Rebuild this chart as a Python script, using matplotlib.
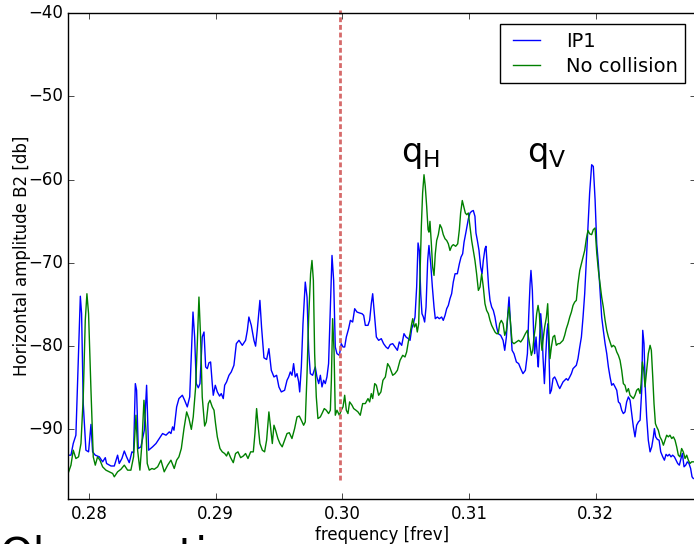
#! /usr/bin/python3

# Horizontal spectrum B2 : IP1 vs no collision

import numpy as np
import matplotlib
matplotlib.use('Agg')
import matplotlib.pyplot as plt

##############################################################################

# IP1 spectrum (blue)
freq_ip1 = [
    0.27840, 0.27858, 0.27876, 0.27897, 0.27913, 0.27932, 0.27942, 0.27955, 0.27976, 0.27997,
    0.28016, 0.28029, 0.28050, 0.28082, 0.28108, 0.28129, 0.28139, 0.28174, 0.28200, 0.28226,
    0.28239, 0.28260, 0.28279, 0.28297, 0.28318, 0.28339, 0.28352, 0.28366, 0.28376, 0.28389,
    0.28410, 0.28437, 0.28455, 0.28471, 0.28502, 0.28529, 0.28555, 0.28581, 0.28608, 0.28634,
    0.28647, 0.28660, 0.28671, 0.28692, 0.28710, 0.28737, 0.28755, 0.28776, 0.28795, 0.28808,
    0.28821, 0.28834, 0.28847, 0.28863, 0.28876, 0.28894, 0.28908, 0.28921, 0.28934, 0.28947,
    0.28960, 0.28973, 0.28981, 0.28997, 0.29013, 0.29031, 0.29044, 0.29060, 0.29071, 0.29086,
    0.29105, 0.29123, 0.29144, 0.29163, 0.29184, 0.29210, 0.29236, 0.29250, 0.29262, 0.29281,
    0.29302, 0.29315, 0.29328, 0.29349, 0.29362, 0.29381, 0.29402, 0.29420, 0.29439, 0.29460,
    0.29481, 0.29499, 0.29518, 0.29544, 0.29563, 0.29576, 0.29589, 0.29602, 0.29615, 0.29628,
    0.29642, 0.29655, 0.29663, 0.29676, 0.29689, 0.29707, 0.29721, 0.29734, 0.29747, 0.29765,
    0.29786, 0.29799, 0.29813, 0.29826, 0.29839, 0.29852, 0.29865, 0.29878, 0.29891, 0.29905,
    0.29918, 0.29931, 0.29944, 0.29957, 0.29976, 0.29991, 0.30005, 0.30018, 0.30031, 0.30049,
    0.30063, 0.30081, 0.30097, 0.30115, 0.30133, 0.30155, 0.30168, 0.30181, 0.30202, 0.30215,
    0.30228, 0.30239, 0.30255, 0.30268, 0.30286, 0.30307, 0.30325, 0.30344, 0.30360, 0.30378,
    0.30397, 0.30415, 0.30434, 0.30449, 0.30468, 0.30486, 0.30502, 0.30520, 0.30534, 0.30547,
    0.30560, 0.30573, 0.30586, 0.30597, 0.30607, 0.30618, 0.30628, 0.30639, 0.30649, 0.30660,
    0.30673, 0.30683, 0.30697, 0.30710, 0.30723, 0.30733, 0.30749, 0.30765, 0.30783, 0.30796,
    0.30810, 0.30823, 0.30836, 0.30849, 0.30862, 0.30875, 0.30889, 0.30907, 0.30923, 0.30936,
    0.30949, 0.30960, 0.30975, 0.30994, 0.31007, 0.31020, 0.31033, 0.31046, 0.31054, 0.31065,
    0.31078, 0.31091, 0.31102, 0.31112, 0.31125, 0.31133, 0.31144, 0.31154, 0.31165, 0.31178,
    0.31191, 0.31204, 0.31217, 0.31230, 0.31249, 0.31268, 0.31281, 0.31294, 0.31307, 0.31315,
    0.31325, 0.31339, 0.31354, 0.31373, 0.31391, 0.31407, 0.31425, 0.31444, 0.31460, 0.31470,
    0.31481, 0.31488, 0.31499, 0.31510, 0.31517, 0.31528, 0.31539, 0.31546, 0.31557, 0.31565,
    0.31575, 0.31583, 0.31594, 0.31604, 0.31615, 0.31623, 0.31631, 0.31638, 0.31649, 0.31662,
    0.31675, 0.31688, 0.31702, 0.31715, 0.31728, 0.31741, 0.31754, 0.31767, 0.31780, 0.31794,
    0.31807, 0.31820, 0.31833, 0.31846, 0.31859, 0.31873, 0.31886, 0.31899, 0.31912, 0.31925,
    0.31938, 0.31951, 0.31967, 0.31980, 0.31994, 0.32007, 0.32020, 0.32033, 0.32046, 0.32059,
    0.32073, 0.32086, 0.32099, 0.32112, 0.32125, 0.32138, 0.32152, 0.32165, 0.32178, 0.32191,
    0.32204, 0.32217, 0.32230, 0.32243, 0.32257, 0.32270, 0.32283, 0.32296, 0.32309, 0.32322,
    0.32336, 0.32349, 0.32362, 0.32370, 0.32380, 0.32391, 0.32401, 0.32414, 0.32428, 0.32441,
    0.32454, 0.32462, 0.32472, 0.32485, 0.32499, 0.32512, 0.32528, 0.32541, 0.32554, 0.32567,
    0.32580, 0.32593, 0.32606, 0.32620, 0.32633, 0.32646, 0.32659, 0.32672, 0.32683, 0.32696,
    0.32709, 0.32722, 0.32735, 0.32748, 0.32759, 0.32769]
db_ip1 = [
    -93.1, -93.1, -91.7, -90.7, -82.9, -74.0, -76.1, -86.9, -92.5, -92.7,
    -89.4, -92.7, -93.1, -93.3, -93.9, -93.4, -94.1, -94.4, -94.4, -93.1,
    -94.1, -93.5, -92.6, -93.3, -94.0, -92.7, -92.8, -84.5, -85.3, -92.3,
    -92.1, -90.1, -84.7, -92.5, -92.1, -91.7, -91.1, -90.5, -90.7, -90.3,
    -90.5, -89.7, -90.1, -87.3, -86.3, -85.9, -86.5, -87.3, -86.1, -80.9,
    -75.9, -78.9, -84.5, -85.0, -84.5, -78.9, -78.3, -82.5, -82.7, -82.0,
    -81.9, -84.5, -85.9, -84.7, -85.5, -86.0, -85.7, -86.3, -84.7, -84.3,
    -83.5, -83.1, -82.3, -79.7, -79.3, -79.9, -79.3, -78.1, -76.5, -77.5,
    -79.3, -80.0, -78.1, -74.5, -77.7, -81.4, -81.6, -80.3, -82.9, -83.7,
    -83.5, -84.9, -85.5, -85.3, -84.1, -83.7, -83.1, -83.5, -82.1, -83.7,
    -83.3, -84.3, -85.5, -82.5, -77.3, -72.3, -74.1, -80.5, -83.3, -83.5,
    -82.5, -83.7, -84.5, -83.5, -84.9, -84.1, -84.5, -83.7, -82.1, -75.3,
    -69.1, -72.1, -80.1, -80.9, -81.1, -79.7, -80.1, -80.1, -78.9, -77.9,
    -76.9, -77.1, -75.5, -75.9, -76.0, -76.1, -76.3, -77.5, -77.5, -76.9,
    -74.9, -73.7, -76.5, -78.9, -79.3, -79.1, -79.7, -80.1, -80.3, -79.8,
    -79.7, -80.1, -80.5, -79.5, -79.9, -78.5, -78.9, -79.1, -79.3, -77.9,
    -77.3, -76.5, -72.9, -67.6, -68.5, -73.7, -76.1, -76.5, -77.1, -75.3,
    -69.7, -67.9, -70.1, -72.9, -75.3, -76.7, -76.5, -76.7, -76.5, -76.9,
    -76.3, -75.5, -75.1, -74.3, -73.7, -72.3, -71.3, -71.3, -70.1, -69.3,
    -68.9, -67.5, -66.3, -64.7, -64.0, -63.8, -63.7, -64.4, -66.4, -67.3,
    -68.5, -70.5, -71.3, -69.7, -68.3, -68.0, -70.5, -72.9, -74.5, -75.3,
    -75.7, -76.5, -77.7, -78.5, -78.7, -79.3, -80.5, -78.9, -75.7, -74.1,
    -76.9, -80.5, -80.9, -81.9, -82.1, -82.7, -83.3, -82.9, -80.9, -76.5,
    -72.5, -70.9, -73.3, -78.9, -80.9, -78.9, -81.3, -82.5, -78.9, -76.1,
    -78.1, -81.3, -84.5, -81.3, -78.1, -77.3, -81.3, -85.7, -85.3, -83.9,
    -83.7, -84.1, -84.7, -85.1, -84.7, -84.3, -84.1, -83.9, -84.1, -83.7,
    -83.3, -82.7, -82.5, -82.3, -81.5, -80.1, -78.9, -76.5, -73.7, -69.7,
    -65.6, -61.6, -58.2, -58.4, -62.4, -67.7, -70.1, -73.3, -76.5, -78.1,
    -79.7, -80.9, -82.5, -83.7, -84.7, -84.5, -84.9, -85.3, -86.7, -86.9,
    -87.7, -88.1, -87.9, -86.7, -86.1, -86.5, -88.1, -89.7, -90.9, -89.5,
    -89.1, -88.9, -85.3, -78.1, -79.7, -85.3, -88.5, -91.3, -92.7, -92.1,
    -90.9, -89.9, -90.9, -91.2, -91.3, -92.7, -93.3, -93.7, -93.0, -93.2,
    -93.0, -93.3, -93.1, -93.3, -93.7, -94.1, -94.3, -93.5, -92.9, -94.5,
    -94.3, -93.9, -94.1, -94.7, -95.7, -95.9]

# No collision spectrum (green)
freq_nocol = [
    0.27840, 0.27858, 0.27876, 0.27897, 0.27918, 0.27937, 0.27955, 0.27971, 0.27984, 0.27997,
    0.28016, 0.28034, 0.28050, 0.28068, 0.28087, 0.28108, 0.28134, 0.28160, 0.28187, 0.28200,
    0.28226, 0.28252, 0.28279, 0.28305, 0.28331, 0.28352, 0.28371, 0.28384, 0.28402, 0.28418,
    0.28434, 0.28450, 0.28460, 0.28476, 0.28497, 0.28515, 0.28542, 0.28568, 0.28594, 0.28621,
    0.28647, 0.28673, 0.28692, 0.28710, 0.28729, 0.28750, 0.28771, 0.28789, 0.28808, 0.28823,
    0.28842, 0.28855, 0.28868, 0.28881, 0.28894, 0.28913, 0.28926, 0.28942, 0.28955, 0.28973,
    0.28987, 0.28999, 0.29013, 0.29034, 0.29052, 0.29071, 0.29086, 0.29099, 0.29118, 0.29139,
    0.29157, 0.29176, 0.29197, 0.29218, 0.29236, 0.29255, 0.29276, 0.29297, 0.29310, 0.29323,
    0.29336, 0.29349, 0.29368, 0.29386, 0.29402, 0.29420, 0.29433, 0.29447, 0.29460, 0.29473,
    0.29491, 0.29507, 0.29525, 0.29544, 0.29563, 0.29581, 0.29602, 0.29623, 0.29642, 0.29660,
    0.29676, 0.29694, 0.29707, 0.29721, 0.29734, 0.29749, 0.29760, 0.29771, 0.29781, 0.29794,
    0.29807, 0.29826, 0.29839, 0.29857, 0.29873, 0.29891, 0.29905, 0.29913, 0.29923, 0.29934,
    0.29944, 0.29957, 0.29976, 0.29991, 0.30005, 0.30018, 0.30031, 0.30044, 0.30057, 0.30076,
    0.30089, 0.30107, 0.30123, 0.30141, 0.30160, 0.30181, 0.30202, 0.30215, 0.30228, 0.30239,
    0.30255, 0.30268, 0.30286, 0.30304, 0.30320, 0.30339, 0.30357, 0.30373, 0.30397, 0.30415,
    0.30434, 0.30455, 0.30476, 0.30494, 0.30507, 0.30520, 0.30534, 0.30547, 0.30555, 0.30568,
    0.30581, 0.30591, 0.30602, 0.30612, 0.30623, 0.30633, 0.30644, 0.30654, 0.30665, 0.30676,
    0.30683, 0.30691, 0.30702, 0.30712, 0.30723, 0.30733, 0.30744, 0.30757, 0.30770, 0.30783,
    0.30796, 0.30810, 0.30823, 0.30836, 0.30849, 0.30862, 0.30875, 0.30894, 0.30910, 0.30923,
    0.30933, 0.30946, 0.30960, 0.30970, 0.30981, 0.30994, 0.31007, 0.31020, 0.31033, 0.31046,
    0.31059, 0.31073, 0.31086, 0.31099, 0.31112, 0.31125, 0.31138, 0.31152, 0.31165, 0.31178,
    0.31191, 0.31204, 0.31217, 0.31230, 0.31241, 0.31254, 0.31268, 0.31281, 0.31294, 0.31307,
    0.31315, 0.31325, 0.31339, 0.31354, 0.31373, 0.31391, 0.31407, 0.31425, 0.31444, 0.31460,
    0.31470, 0.31481, 0.31491, 0.31502, 0.31512, 0.31523, 0.31533, 0.31544, 0.31554, 0.31565,
    0.31575, 0.31586, 0.31596, 0.31610, 0.31620, 0.31628, 0.31638, 0.31649, 0.31662, 0.31675,
    0.31688, 0.31702, 0.31715, 0.31728, 0.31741, 0.31754, 0.31767, 0.31780, 0.31794, 0.31807,
    0.31820, 0.31833, 0.31846, 0.31859, 0.31873, 0.31886, 0.31899, 0.31912, 0.31925, 0.31938,
    0.31951, 0.31967, 0.31980, 0.31994, 0.32007, 0.32020, 0.32033, 0.32046, 0.32059, 0.32073,
    0.32086, 0.32099, 0.32112, 0.32125, 0.32138, 0.32152, 0.32165, 0.32178, 0.32191, 0.32204,
    0.32217, 0.32230, 0.32243, 0.32257, 0.32270, 0.32283, 0.32296, 0.32309, 0.32322, 0.32336,
    0.32349, 0.32357, 0.32367, 0.32378, 0.32388, 0.32401, 0.32414, 0.32428, 0.32438, 0.32449,
    0.32459, 0.32470, 0.32480, 0.32493, 0.32506, 0.32520, 0.32533, 0.32546, 0.32559, 0.32572,
    0.32585, 0.32599, 0.32612, 0.32625, 0.32638, 0.32651, 0.32664, 0.32677, 0.32690, 0.32704,
    0.32717, 0.32730, 0.32743, 0.32756, 0.32769]
db_nocol = [
    -95.1, -94.3, -92.5, -93.5, -93.3, -91.7, -86.1, -76.9, -73.7, -76.1,
    -85.3, -93.3, -94.3, -93.3, -93.7, -94.5, -94.9, -95.1, -95.3, -95.7,
    -95.1, -94.8, -94.3, -94.9, -94.9, -93.3, -88.3, -92.5, -94.9, -91.7,
    -86.5, -90.1, -94.1, -94.9, -94.7, -94.8, -94.5, -93.7, -95.1, -94.3,
    -93.7, -94.7, -93.7, -93.3, -92.3, -89.9, -87.9, -88.7, -90.0, -88.5,
    -84.9, -79.7, -74.1, -78.9, -86.1, -89.6, -89.1, -86.9, -86.5, -87.3,
    -87.7, -89.3, -90.9, -92.3, -92.7, -92.9, -93.2, -92.7, -93.4, -94.0,
    -92.9, -92.7, -93.4, -93.2, -92.9, -93.5, -92.7, -92.7, -90.5, -87.5,
    -89.7, -91.7, -92.5, -92.7, -91.3, -87.9, -89.7, -91.7, -89.5, -90.1,
    -91.1, -91.7, -92.1, -91.3, -90.5, -90.4, -91.1, -89.9, -88.5, -88.4,
    -88.9, -89.5, -89.1, -83.3, -76.5, -71.3, -69.7, -72.1, -80.9, -86.1,
    -88.7, -88.5, -88.1, -87.5, -87.7, -88.1, -87.7, -84.1, -76.7, -80.5,
    -88.3, -87.7, -88.3, -87.7, -87.3, -85.9, -87.7, -88.1, -86.7, -87.1,
    -87.5, -87.7, -87.9, -88.3, -86.9, -86.9, -86.3, -86.7, -85.7, -86.3,
    -84.5, -84.7, -85.9, -85.5, -84.1, -83.7, -82.1, -82.5, -83.5, -83.3,
    -82.9, -81.7, -81.1, -81.3, -80.7, -79.5, -78.5, -77.3, -76.7, -77.7,
    -77.3, -78.3, -77.3, -71.7, -65.6, -61.6, -59.4, -60.8, -63.2, -66.0,
    -66.3, -65.0, -67.7, -70.5, -71.5, -68.9, -67.3, -66.6, -65.4, -65.8,
    -66.6, -67.1, -67.3, -67.7, -68.5, -68.0, -67.8, -68.0, -67.7, -66.0,
    -64.0, -62.5, -63.4, -64.0, -64.2, -64.0, -65.6, -67.3, -68.5, -69.7,
    -71.3, -73.3, -72.9, -71.3, -72.9, -74.9, -75.7, -76.1, -76.9, -77.5,
    -77.9, -78.3, -78.5, -78.5, -77.3, -76.9, -77.3, -78.7, -78.1, -76.1,
    -75.3, -76.9, -79.5, -79.7, -79.5, -79.3, -79.5, -79.1, -78.5, -78.1,
    -79.1, -80.1, -81.1, -80.5, -78.9, -77.7, -76.1, -75.1, -76.1, -78.9,
    -80.5, -78.9, -77.7, -76.5, -74.9, -77.7, -81.5, -80.1, -78.9, -78.7,
    -79.9, -79.7, -79.7, -79.5, -79.3, -78.7, -77.9, -77.3, -76.5, -75.9,
    -75.1, -74.7, -74.5, -72.5, -70.9, -70.1, -69.3, -68.5, -67.1, -66.1,
    -66.5, -66.6, -66.0, -65.8, -68.8, -70.9, -72.5, -74.1, -75.3, -76.9,
    -78.1, -78.9, -79.5, -80.1, -79.9, -80.1, -80.7, -81.1, -81.7, -82.9,
    -84.5, -84.7, -85.5, -85.1, -85.9, -86.1, -86.3, -85.9, -85.3, -85.1,
    -85.7, -84.5, -81.9, -82.9, -84.9, -82.9, -80.9, -79.9, -80.5, -83.7,
    -86.9, -89.3, -89.7, -90.1, -90.9, -91.3, -91.9, -91.3, -90.7, -90.9,
    -90.7, -91.1, -90.9, -91.3, -92.1, -93.1, -93.3, -92.3, -92.7, -93.5,
    -93.1, -93.7, -94.1, -93.9, -93.9]

labels = ['IP1', 'No collision']
f_marker = 0.29985            # dashed marker line
db_marker = [-96.1, -39.6]
tune_labels = [r'$\mathrm{q}_\mathrm{H}$', r'$\mathrm{q}_\mathrm{V}$']
tune_pos = [(0.30465, -57.9), (0.31455, -57.9)]

##############################################################################

plt.style.use('classic')
plt.rcParams['mathtext.fontset'] = 'dejavusans'
plt.rcParams['figure.facecolor'] = 'white'
plt.rcParams['savefig.facecolor'] = 'white'

fig = plt.figure(figsize=(6.94, 5.44), dpi=100)
ax = fig.add_axes([0.0984, 0.0822, 0.9046, 0.8934])

ax.plot(freq_ip1, db_ip1, color='b', label=labels[0])
ax.plot(freq_nocol, db_nocol, color='g', label=labels[1])
ax.plot([f_marker, f_marker], db_marker, color='#d66a6a', linewidth=2,
        linestyle=(0, (3.5, 2)), clip_on=False)

for txt, (x, y) in zip(tune_labels, tune_pos):
    ax.text(x, y, txt, fontsize=24, ha='left', va='baseline')

ax.set_xlim(0.27837, 0.32791)
ax.set_ylim(-98.4, -40)
ax.set_xticks([0.28, 0.29, 0.30, 0.31, 0.32])
ax.set_yticks([-90, -80, -70, -60, -50, -40])
ax.set_xlabel('frequency [frev]', fontsize=12, labelpad=2)
ax.set_ylabel('Horizontal amplitude B2 [db]', fontsize=12, labelpad=-2)
ax.legend(loc='upper right', fontsize=14, borderaxespad=0.55,
          labelspacing=0.3, borderpad=0.4, handlelength=2.0, handletextpad=1.0)

fig.text(0.0, -0.0441, 'Observations', fontsize=31, va='baseline', ha='left')

fig.savefig('out.png', dpi=100)
